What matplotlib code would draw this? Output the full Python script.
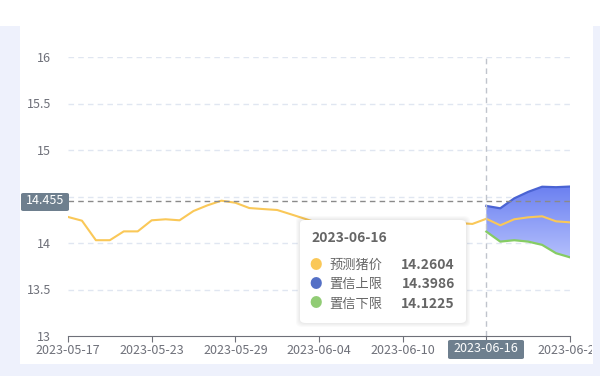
import numpy as np
import pandas as pd
import matplotlib
matplotlib.use("Agg")
import matplotlib.pyplot as plt
import matplotlib.dates as mdates
from matplotlib.patches import FancyBboxPatch, Rectangle
from matplotlib.colors import LinearSegmentedColormap

plt.rcParams['font.family'] = ['Noto Sans CJK SC', 'DejaVu Sans']

# predicted pig price, daily
dates = pd.date_range("2023-05-17", "2023-06-22", freq="D")
predicted = [14.28, 14.24, 14.03, 14.03, 14.125, 14.125, 14.244, 14.255, 14.244, 14.344,
             14.405, 14.455, 14.433, 14.376, 14.365, 14.355, 14.308, 14.26, 14.21, 14.21,
             14.21, 14.233, 14.22, 14.233, 14.20, 14.226, 14.21, 14.215, 14.215, 14.205,
             14.2604, 14.19, 14.255, 14.276, 14.287, 14.233, 14.222]
band_dates = pd.date_range("2023-06-16", "2023-06-22", freq="D")
upper = [14.3986, 14.373, 14.48, 14.55, 14.605, 14.60, 14.607]
lower = [14.1225, 14.015, 14.03, 14.015, 13.98, 13.89, 13.846]

tip_date = "2023-06-16"
tip_names = ["预测猪价", "置信上限", "置信下限"]
tip_values = ["14.2604", "14.3986", "14.1225"]
tip_colors = ["#fac858", "#5470c6", "#91cc75"]
cross_y = 14.455

W, H = 600, 376
fig = plt.figure(figsize=(6, 3.76), dpi=100)
fig.patch.set_facecolor("#eef1fc")

def fx(x):
    return x / W

def fy(y):
    return 1 - y / H

# white panel
panel = Rectangle((fx(20), fy(364)), fx(573), 364 / H, transform=fig.transFigure,
                  facecolor="white", edgecolor="none", zorder=-2)
fig.patches.append(panel)
fig.patches.append(Rectangle((0, fy(26)), 1, 26 / H, transform=fig.transFigure,
                             facecolor="white", edgecolor="none", zorder=-2))

ax = fig.add_axes([fx(68), fy(336), (570 - 68) / W, (336 - 57) / H])
ax.set_facecolor("none")

x0 = mdates.date2num(pd.Timestamp("2023-05-17"))
x1 = mdates.date2num(pd.Timestamp("2023-06-22"))

# band with vertical gradient
poly = ax.fill_between(band_dates, upper, lower, color="none", zorder=2)
grad = np.linspace(0, 1, 256).reshape(-1, 1)
cmap = LinearSegmentedColormap.from_list("band", ["#6b80f1", "#b3bffc"])
bx0 = mdates.date2num(band_dates[0])
bx1 = mdates.date2num(band_dates[-1])
img = ax.imshow(grad, cmap=cmap, aspect="auto", extent=[bx0, bx1, min(lower), max(upper)],
                origin="upper", zorder=2)
img.set_clip_path(poly.get_paths()[0], transform=ax.transData)
ax.set_xlim(x0, x1)
ax.set_ylim(13, 16)

ax.plot(band_dates, upper, color="#4a63d3", lw=1.6, zorder=3)
ax.plot(band_dates, lower, color="#86cc64", lw=1.6, zorder=3)
ax.plot(dates, predicted, color="#fac858", lw=1.5, zorder=4)

# grid
for v in [13.5, 14, 14.5, 15, 15.5, 16]:
    ax.axhline(v, color="#e0e6f1", lw=1, ls=(0, (4, 3)), zorder=1)

for s in ["top", "right", "left"]:
    ax.spines[s].set_visible(False)
ax.spines["bottom"].set_color("#6e7079")
ax.spines["bottom"].set_zorder(5)

tick_dates = pd.date_range("2023-05-17", "2023-06-22", freq="6D")
ax.set_xticks(mdates.date2num(tick_dates))
ax.set_xticklabels([d.strftime("%Y-%m-%d") if d.strftime("%Y-%m-%d") != tip_date else ""
                    for d in tick_dates])
ax.set_yticks([13, 13.5, 14, 14.5, 15, 15.5, 16])
ax.set_yticklabels(["13", "13.5", "14", "", "15", "15.5", "16"])
ax.tick_params(axis="x", colors="#6e7079", labelcolor="#6e7079", length=4, pad=2, labelsize=9)
ax.tick_params(axis="y", length=0, labelcolor="#6e7079", pad=12, labelsize=9)
# last label is cut by the panel edge, like the reference
clip = Rectangle((fx(0), 0), fx(592), 1, transform=fig.transFigure)
for lab in ax.get_xticklabels():
    lab.set_clip_path(clip)
    lab.set_clip_on(True)

# crosshair
xc = mdates.date2num(pd.Timestamp(tip_date))
ax.axvline(xc, color="#c0c4cc", lw=1, ls=(0, (4, 3)), zorder=4)
ax.axhline(cross_y, color="#8a8a8a", lw=1, ls=(0, (4, 3)), zorder=4)

# axis pointer labels
fig.patches.append(FancyBboxPatch((fx(21), fy(211)), fx(48), 18 / H, transform=fig.transFigure,
                                  boxstyle="round,pad=0,rounding_size=0.004",
                                  facecolor="#6e7f8e", edgecolor="none", zorder=6))
fig.text(fx(45), fy(201), "14.455", color="white", fontsize=9, ha="center", va="center", zorder=7)
fig.patches.append(FancyBboxPatch((fx(448), fy(359)), fx(76), 19 / H, transform=fig.transFigure,
                                  boxstyle="round,pad=0,rounding_size=0.004",
                                  facecolor="#6e7f8e", edgecolor="none", zorder=6))
fig.text(fx(486), fy(349), tip_date, color="white", fontsize=9, ha="center", va="center", zorder=7)

# tooltip
for i, a in enumerate([0.02, 0.02, 0.02, 0.02]):
    d = 4 - i
    fig.patches.append(FancyBboxPatch((fx(300 - d), fy(323 + d)), fx(166 + 2 * d), (103 + 2 * d) / H,
                                      transform=fig.transFigure,
                                      boxstyle="round,pad=0,rounding_size=0.012",
                                      facecolor="black", alpha=a, edgecolor="none", zorder=8))
fig.patches.append(FancyBboxPatch((fx(300), fy(323)), fx(166), 103 / H, transform=fig.transFigure,
                                  boxstyle="round,pad=0,rounding_size=0.01",
                                  facecolor="white", edgecolor="none", zorder=9))
fig.text(fx(311), fy(238), tip_date, color="#666666", fontsize=10, fontweight="bold",
         ha="left", va="center", zorder=10)
for i, (n, v, c) in enumerate(zip(tip_names, tip_values, tip_colors)):
    yy = 265 + i * 19.5
    fig.text(fx(316), fy(yy), "●", color=c, fontsize=9, ha="center", va="center", zorder=10)
    fig.text(fx(329), fy(yy), n, color="#666666", fontsize=9.5, ha="left", va="center", zorder=10)
    fig.text(fx(455), fy(yy), v, color="#666666", fontsize=10, fontweight="bold",
             ha="right", va="center", zorder=10)

fig.savefig("out.png", dpi=100, facecolor=fig.get_facecolor())
